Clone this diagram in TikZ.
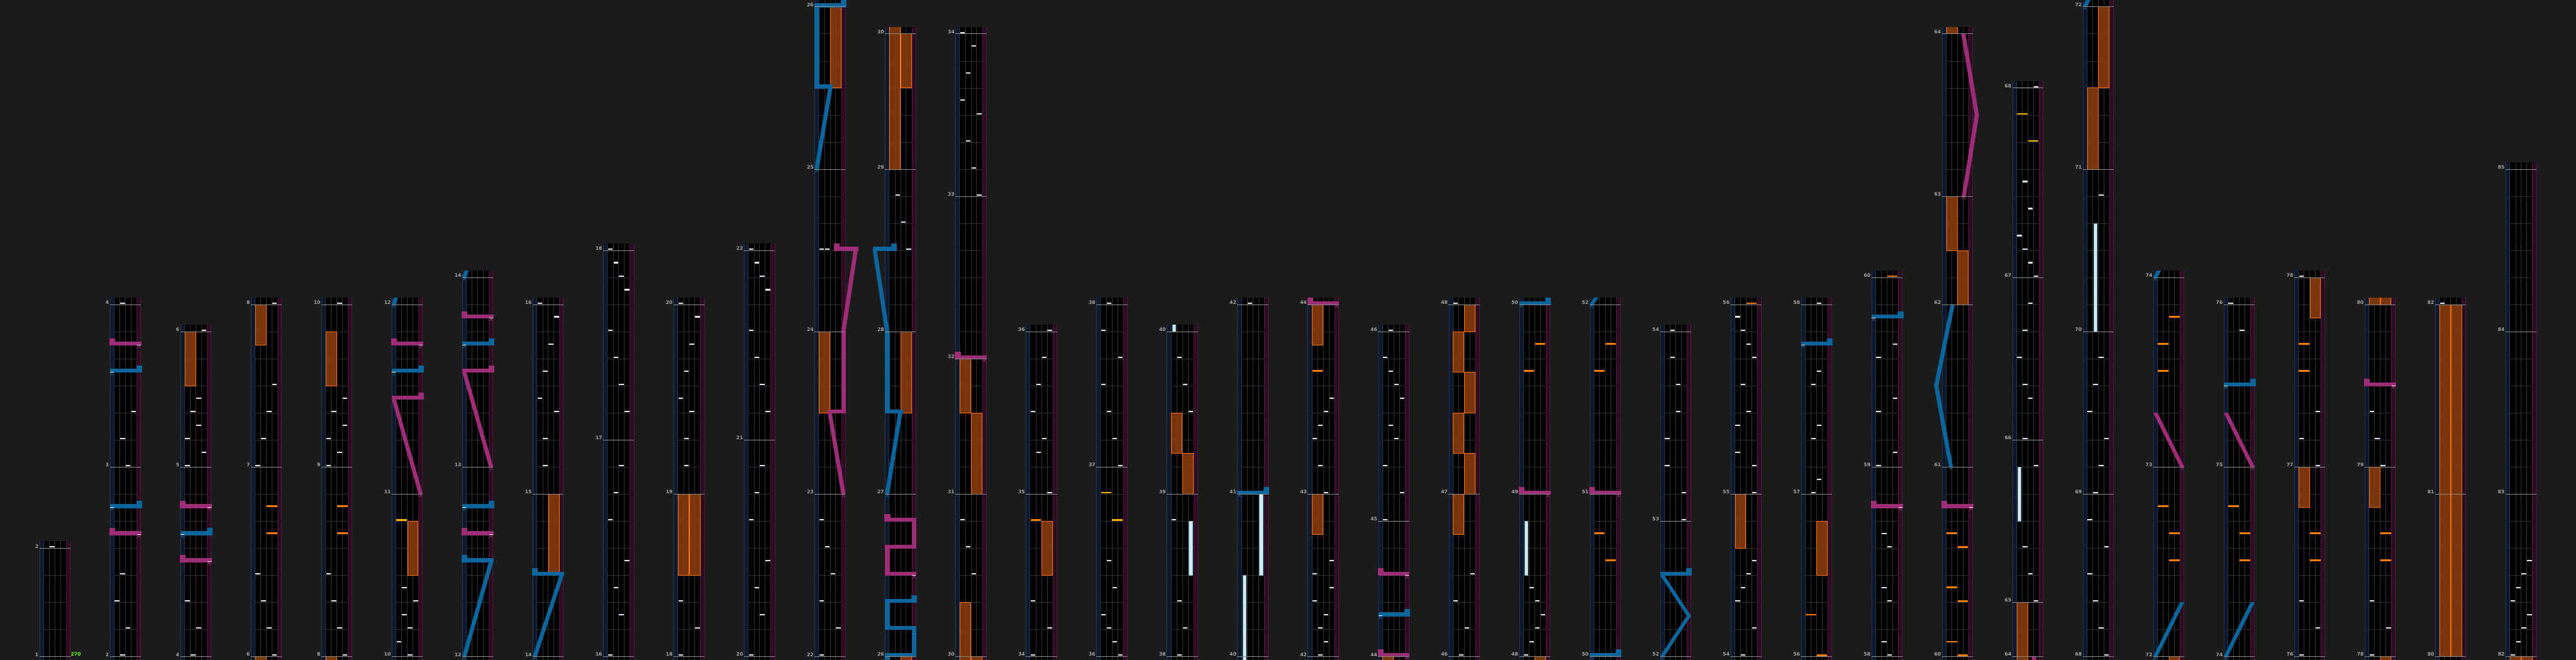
\documentclass[tikz,border=0pt]{standalone}
\usepackage{fontspec}
\setsansfont{DejaVu Sans}

\definecolor{bgc}{RGB}{27,27,27}
\definecolor{lanel}{RGB}{15,24,42}
\definecolor{laner}{RGB}{42,13,32}
\definecolor{bordl}{RGB}{30,56,84}
\definecolor{bordr}{RGB}{80,24,60}
\definecolor{divc}{RGB}{50,50,50}
\definecolor{beatc}{RGB}{44,44,44}
\definecolor{mlinec}{RGB}{140,140,140}
\definecolor{labc}{RGB}{165,165,165}
\definecolor{chipc}{RGB}{225,232,240}
\definecolor{fxf}{RGB}{135,60,12}
\definecolor{fxb}{RGB}{255,112,10}
\definecolor{fxc}{RGB}{255,125,0}
\definecolor{fxyc}{RGB}{255,180,0}
\definecolor{btf}{RGB}{210,235,242}
\definecolor{btb}{RGB}{120,170,190}
\definecolor{lzb}{RGB}{12,102,158}
\definecolor{lzp}{RGB}{158,44,118}
\definecolor{bpmc}{RGB}{110,255,20}

\newcommand{\chartcol}[4]{%
  \begin{scope}[shift={({70+125*#1},0)}]
    \fill[llane] (0,-0.125) rectangle (7.7,{#2+0.25});
    \fill[black] (7.7,-0.125) rectangle (47.3,{#2+0.25});
    \fill[rlane] (47.3,-0.125) rectangle (55,{#2+0.25});
    \draw[lborder] (0.5,-0.125) -- (0.5,{#2+0.25}) (7.3,-0.125) -- (7.3,{#2+0.25});
    \draw[rborder] (47.7,-0.125) -- (47.7,{#2+0.25}) (54.5,-0.125) -- (54.5,{#2+0.25});
    \foreach \qg in {1,...,#2} \draw[beatline] (7.7,\qg) -- (47.3,\qg);
    \foreach \qd in {17.6,27.5,37.4} \draw[lanediv] (\qd,-0.125) -- (\qd,{#2+0.25});
    \begin{scope}
      \clip (-40,-0.125) rectangle (95,{#2+0.25});
      #4
    \end{scope}
    \foreach \qm/\qn in {#3} {
      \draw[mline] (0,\qm) -- (55,\qm);
      \node[mlabel] (c#1m\qn) at (-1.5,\qm) {\qn};
    }
  \end{scope}}
\newcommand{\chips}[1]{\foreach \ql/\qb in {#1}{\fill[notechip] ({8.5+9.9*\ql},{\qb+0.02}) rectangle ({16.7+9.9*\ql},{\qb+0.07});}}
\newcommand{\fxc}[1]{\foreach \qs/\qb in {#1}{\fill[fxchip] ({8.3+19.8*\qs},{\qb+0.015}) rectangle ({26.7+19.8*\qs},{\qb+0.075});}}
\newcommand{\fxy}[1]{\foreach \qs/\qb in {#1}{\fill[fxychip] ({8.3+19.8*\qs},{\qb+0.015}) rectangle ({26.7+19.8*\qs},{\qb+0.075});}}
\newcommand{\fxh}[1]{\foreach \qs/\qa/\qe in {#1}{\filldraw[fxhold] ({8.1+19.8*\qs},\qa) rectangle ({26.9+19.8*\qs},\qe);}}
\newcommand{\bth}[1]{\foreach \ql/\qa/\qe in {#1}{\filldraw[bthold] ({9.8+9.9*\ql},\qa) rectangle ({15.6+9.9*\ql},\qe);}}
\newcommand{\lz}[5]{\fill[#1] ({#2-3.6},#3) -- ({#2+3.6},#3) -- ({#4+3.6},#5) -- ({#4-3.6},#5) -- cycle;}
\newcommand{\lbar}[4]{\fill[#1] ({min(#2,#3)-3.6},#4) rectangle ({max(#2,#3)+3.6},{#4+0.125});}
\newcommand{\ltail}[3]{\fill[#1] ({#2-4.5},#3) rectangle ({#2+4.5},{#3+0.25});}
\newcommand{\lmark}[3]{\draw[#1,fill=none,line width=0.9pt] ({#2-2.6},{#3-0.11}) -- (#2,{#3-0.035}) -- ({#2+2.6},{#3-0.11}); \draw[white,line width=0.8pt] ({#2-3.4},#3) -- ({#2+3.4},#3);}
\newcommand{\slam}[4]{\lbar{#1}{#2}{#3}{#4}\ltail{#1}{#3}{#4}\lmark{#1}{#2}{#4}}
\newcommand{\bslam}[1]{\slam{blz}{3.8}{51.2}{#1}}
\newcommand{\pslam}[1]{\slam{plz}{51.2}{3.8}{#1}}

\begin{document}
\begin{tikzpicture}[
    x=1pt, y=48pt,
    llane/.style={fill=lanel},
    rlane/.style={fill=laner},
    lborder/.style={draw=bordl, line width=0.8pt},
    rborder/.style={draw=bordr, line width=0.8pt},
    beatline/.style={draw=beatc, line width=0.6pt},
    lanediv/.style={draw=divc, line width=0.6pt},
    mline/.style={draw=mlinec, line width=0.7pt},
    mlabel/.style={anchor=south east, inner sep=0pt, text=labc, font=\sffamily\bfseries\fontsize{8.5}{9}\selectfont},
    bpm/.style={anchor=south west, inner sep=0pt, text=bpmc, font=\sffamily\bfseries\fontsize{8.5}{9}\selectfont},
    notechip/.style={fill=chipc},
    fxchip/.style={fill=fxc},
    fxychip/.style={fill=fxyc},
    fxhold/.style={fill=fxf, fill opacity=0.9, draw=fxb, line width=0.7pt},
    bthold/.style={fill=btf, draw=btb, line width=0.6pt},
    blz/.style={fill=lzb, draw=lzb, line width=0.2pt},
    plz/.style={fill=lzp, draw=lzp, line width=0.2pt}
]
\useasboundingbox (0,-0.125) rectangle (4570,24.25);
\fill[bgc] (0,-0.125) rectangle (4570,24.25);

\chartcol{0}{4}{0/1,4/2}{\chips{1/4}}
\node[bpm] (bpm270) at (125.5,0) {270};
\chartcol{1}{13}{0/2,7/3,13/4}{\chips{1/13,3/9,1/8,2/7,1/3,0/2,2/1,1/0}\pslam{11.5}\bslam{10.5}\bslam{5.5}\pslam{4.5}}
\chartcol{2}{12}{0/4,7/5,12/6}{\fxh{0/10/12}\chips{3/12,2/9.5,1/9,2/8.5,0/8,3/7.5,0/7,0/2,2/1,1/0}\pslam{5.5}\bslam{4.5}\pslam{3.5}}
\chartcol{3}{13}{0/6,7/7,13/8}{\fxh{0/11.5/13,0/-0.3/0}\chips{3/13,3/10,2/9,1/8,0/7,0/3,1/2,2/1,3/0}\fxc{1/5.5,1/4.5}}
\chartcol{4}{13}{0/8,7/9,13/10}{\fxh{0/10/12,0/-0.3/0}\chips{2/13,3/9.5,1/9,3/8.5,0/8,2/7.5,0/7,0/3,1/2,2/1,3/0}\fxc{1/5.5,1/4.5}}
\chartcol{5}{13}{0/10,6/11,13/12}{\fxh{1/3/5}\fxy{0/5}\chips{1/2.5,3/2,1/1.5,2/1,0/0.5,2/0}\pslam{11.5}\bslam{10.5}
  \lz{plz}{51.2}{6}{3.8}{9.5}\lbar{plz}{3.8}{51.2}{9.5}\ltail{plz}{51.2}{9.5}\lmark{plz}{51.2}{6}
  \lz{blz}{3.8}{13}{51.2}{16.5}\lmark{blz}{3.8}{13}}
\chartcol{6}{14}{0/12,7/13,14/14}{\pslam{12.5}\bslam{11.5}
  \lz{plz}{51.2}{7}{3.8}{10.5}\lbar{plz}{3.8}{51.2}{10.5}\ltail{plz}{51.2}{10.5}\lmark{plz}{51.2}{7}
  \bslam{5.5}\pslam{4.5}
  \lz{blz}{3.8}{0}{51.2}{3.5}\lbar{blz}{51.2}{3.8}{3.5}\ltail{blz}{3.8}{3.5}\lmark{blz}{3.8}{0}
  \lz{blz}{3.8}{14}{51.2}{17}\lmark{blz}{3.8}{14}}
\chartcol{7}{13}{0/14,6/15,13/16}{\fxh{1/3/6}\chips{0/13,3/12.5,2/11.5,1/10.5,0/9.5,3/9,1/8,1/7}
  \lz{blz}{3.8}{0}{51.2}{3}\lbar{blz}{51.2}{3.8}{3}\ltail{blz}{3.8}{3}\lmark{blz}{3.8}{0}}
\chartcol{8}{15}{0/16,8/17,15/18}{\chips{0/15,1/14.5,2/14,3/13.5,0/12,1/11,2/10,3/9,2/7,1/6,0/5,3/3.5,1/2.5,2/1.5,0/0}}
\chartcol{9}{13}{0/18,6/19,13/20}{\fxh{0/3/6,1/3/6}\chips{0/13,3/12.5,2/11.5,1/10.5,0/9.5,2/9,1/8,1/7,0/2,3/1,0/0}}
\chartcol{10}{15}{0/20,8/21,15/22}{\chips{0/15,1/14.5,2/14,3/13.5,0/12,1/11,2/10,3/9,2/7,1/6,0/5,3/3.5,1/2.5,2/1.5,0/0}}
\chartcol{11}{24}{0/22,6/23,12/24,18/25,24/26}{\fxh{0/9/12,1/21/24}\chips{0/0,3/1,0/2,2/3,1/4,0/5,0/15,1/15}
  \lz{plz}{51.2}{6}{27}{9}\lbar{plz}{27}{51.2}{9}\lz{plz}{51.2}{9}{51.2}{12}\lz{plz}{51.2}{12}{73}{15}\lbar{plz}{73}{39}{15}\ltail{plz}{39}{15}\lmark{plz}{51.2}{6}
  \lz{blz}{3.8}{18}{28}{21}\lbar{blz}{28}{3.8}{21}\lz{blz}{3.8}{21}{3.8}{24}\lbar{blz}{3.8}{51.2}{24}\ltail{blz}{51.2}{24}\lmark{blz}{3.8}{18}}
\chartcol{12}{23}{0/26,6/27,12/28,18/29,23/30}{\fxh{1/-0.3/0,1/9/12,0/18/23.5,1/21/23}\chips{1/17,2/16,3/15}
  \lz{blz}{3.8}{-0.5}{3.8}{0}\lbar{blz}{3.8}{51.2}{0}\lz{blz}{51.2}{0}{51.2}{1}\lbar{blz}{51.2}{3.8}{1}\lz{blz}{3.8}{1}{3.8}{2}\lbar{blz}{3.8}{51.2}{2}\ltail{blz}{51.2}{2}
  \lbar{plz}{51.2}{3.8}{3}\lz{plz}{3.8}{3}{3.8}{4}\lbar{plz}{3.8}{51.2}{4}\lz{plz}{51.2}{4}{51.2}{5}\lbar{plz}{51.2}{3.8}{5}\ltail{plz}{3.8}{5}\lmark{plz}{51.2}{3}
  \lz{blz}{3.8}{6}{27}{9}\lbar{blz}{27}{3.8}{9}\lz{blz}{3.8}{9}{3.8}{12}\lz{blz}{3.8}{12}{-18}{15}\lbar{blz}{-18}{16}{15}\ltail{blz}{16}{15}\lmark{blz}{3.8}{6}}
\chartcol{13}{23}{0/30,6/31,11/32,17/33,23/34}{\fxh{0/-0.3/2,1/-0.3/0,0/9/11,1/6/9}\chips{2/3,1/4,0/5,3/17,2/18,1/19,3/20,0/20.5,1/21.5,2/22.5,0/23}\pslam{11}}
\chartcol{14}{12}{0/34,6/35,12/36}{\fxh{1/3/5}\fxc{0/5}\chips{3/12,2/11,1/10,0/9,2/8,1/7.5,3/6,0/2,3/1,0/0}}
\chartcol{15}{13}{0/36,7/37,13/38}{\fxy{0/6,1/5}\chips{1/13,0/12,3/11,0/10,1/9,2/8,3/7,1/3.5,2/2.5,0/1.5,1/1,2/0.5,3/0}}
\chartcol{16}{12}{0/38,6/39,12/40}{\fxh{0/7.5/9,1/6/7.5}\bth{3/3/5,0/12/12.5}\chips{1/11,2/10,3/9,0/5,1/2,2/1,1/0}}
\chartcol{17}{13}{0/40,6/41,13/42}{\bth{0/-0.3/3,3/3/6}\chips{1/13}\bslam{6}}
\chartcol{18}{13}{0/42,6/43,13/44}{\fxh{0/11.5/13,0/4.5/6}\fxc{0/10.5}\chips{3/9.5,2/9,1/8.5,0/8,1/7,2/6,3/3.5,0/3,3/2.5,0/2,2/1.5,1/1,2/0.5,1/0}\pslam{13}}
\chartcol{19}{12}{0/44,5/45,12/46}{\fxh{0/-0.3/0}\chips{1/12,0/11,1/10.5,2/10,3/9.5,1/8.5,2/8,0/7,3/6,0/5}\pslam{3}\bslam{1.5}\pslam{0}}
\chartcol{20}{13}{0/46,6/47,13/48}{\fxh{1/12/13,1/9/10.5,1/6/7.5,0/10.5/12,0/7.5/9,0/4.5/6}\chips{0/13,3/3,0/2,2/1,1/0}}
\chartcol{21}{13}{0/48,6/49,13/50}{\fxh{1/-0.3/0}\bth{0/3/5}\fxc{1/11.5,0/10.5}\chips{1/2.5,2/2,3/1.5,2/1,1/0.5,0/0}\bslam{13}\pslam{6}}
\chartcol{22}{13}{0/50,6/51,13/52}{\fxc{1/11.5,0/10.5,0/4.5,1/3.5}\pslam{6}\bslam{0}\lz{blz}{3.8}{13}{51.2}{14.5}\lmark{blz}{3.8}{13}}
\chartcol{23}{12}{0/52,5/53,12/54}{\chips{1/12,1/11,2/10,2/9,0/8,0/7,3/6,3/5}
  \lz{blz}{3.8}{0}{51.2}{1.5}\lz{blz}{51.2}{1.5}{3.8}{3}\lbar{blz}{3.8}{51.2}{3}\ltail{blz}{51.2}{3}\lmark{blz}{3.8}{0}}
\chartcol{24}{13}{0/54,6/55,13/56}{\fxh{0/4/6}\fxc{1/13}\chips{0/12.5,1/12,2/11.5,3/11,1/10,2/9,0/8.5,0/7.5,3/7,3/6,3/3.5,2/3,1/2.5,0/2,3/1,1/0}}
\chartcol{25}{13}{0/56,6/57,13/58}{\fxh{1/3/5}\fxc{0/1.5,1/0}\chips{2/13,2/10.5,1/10,2/8.5,1/8,2/6.5,1/6}\bslam{11.5}}
\chartcol{26}{14}{0/58,7/59,14/60}{\fxc{1/14}\chips{3/11.5,0/11,3/9.5,0/9,3/7.5,0/7,1/4.5,2/4,1/2.5,2/2,1/0.5,2/0}\bslam{12.5}\pslam{5.5}}
\chartcol{27}{23}{0/60,7/61,13/62,17/63,23/64}{\fxh{1/13/15,0/15/17,0/23/23.5}\fxc{0/4.5,0/2.5,0/0.5,1/4,1/2,1/0}\pslam{5.5}
  \lz{blz}{16}{7}{-10}{10}\lz{blz}{-10}{10}{19}{13}\lmark{blz}{16}{7}
  \lz{plz}{39}{17}{62}{20}\lz{plz}{62}{20}{38}{23}\lmark{plz}{39}{17}}
\chartcol{28}{21}{0/64,2/65,8/66,14/67,21/68}{\fxh{0/-0.3/2}\bth{0/5/7}\fxy{0/20,1/19}\chips{3/2,2/3,1/4,3/7,1/8,2/9.5,1/10,0/11,1/12,2/13,3/14,2/14.5,1/15,0/15.5,2/16.5,1/17.5,3/21}\lz{plz}{62}{-3}{38}{0}}
\chartcol{29}{24}{0/68,6/69,12/70,18/71,24/72}{\fxh{0/18/21,1/21/24}\bth{1/12/16}\chips{3/0,2/1,1/2,0/3,3/4,0/5,1/6,2/7,3/8,0/9,1/10,2/11,2/17}\lz{blz}{3.8}{24}{51.2}{26}\lmark{blz}{3.8}{24}}
\chartcol{30}{14}{0/72,7/73,14/74}{\fxh{1/-0.3/0}\fxc{1/12.5,0/11.5,0/10.5,0/5.5,1/4.5,1/3.5}
  \lz{blz}{3.8}{0}{51.2}{2}\lmark{blz}{3.8}{0}\lz{plz}{51.2}{7}{3.8}{9}\lmark{plz}{51.2}{7}\lz{blz}{3.8}{14}{51.2}{16}\lmark{blz}{3.8}{14}}
\chartcol{31}{13}{0/74,7/75,13/76}{\fxc{0/5.5,1/4.5,1/3.5}\chips{0/13,2/12}
  \lz{blz}{3.8}{0}{51.2}{2}\lmark{blz}{3.8}{0}\lz{plz}{51.2}{7}{3.8}{9}\lmark{plz}{51.2}{7}\bslam{10}}
\chartcol{32}{14}{0/76,7/77,14/78}{\fxh{1/12.5/14,0/5.5/7}\fxc{0/11.5,0/10.5,1/4.5,1/3.5}\chips{0/14,3/9,0/8,3/7,0/2,3/1,0/0}}
\chartcol{33}{13}{0/78,7/79,13/80}{\fxh{0/5.5/7,1/-0.3/0,0/13/13.5,1/13/13.5}\fxc{1/4.5,1/3.5}\chips{0/9,1/8,2/7,0/2,3/1,0/0}\pslam{10}}
\chartcol{34}{13}{0/80,6/81,13/82}{\fxh{0/0/13,1/0/13}\chips{0/13}}
\chartcol{35}{18}{0/82,6/83,12/84,18/85}{\fxh{0/-0.3/0,1/-0.3/0}\chips{0/0,1/0.5,2/1,3/1.5,0/2,1/2.5,2/3,3/3.5}}
\end{tikzpicture}
\end{document}
